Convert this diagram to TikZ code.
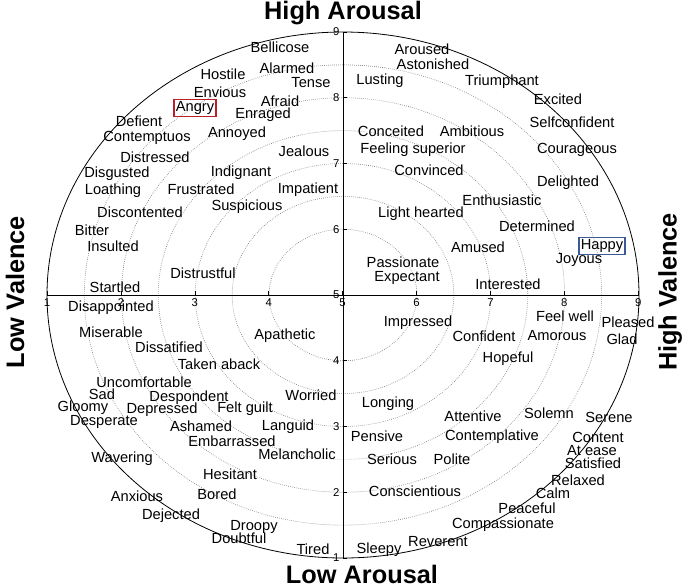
\documentclass[tikz,border=0pt]{standalone}
\usepackage{fontspec}
\setmainfont{Liberation Sans}
\usepackage{xcolor}
\usetikzlibrary{positioning}
\definecolor{boxred}{RGB}{190,30,40}
\definecolor{boxblue}{RGB}{60,90,150}

\begin{document}
\begin{tikzpicture}[
    x=0.75pt, y=-0.75pt,
    word/.style={inner sep=1pt, font=\fontsize{11}{13}\selectfont},
    ticklab/.style={inner sep=1pt, font=\fontsize{8.5}{10}\selectfont},
    axtitle/.style={font=\fontsize{19}{23}\selectfont\bfseries},
    ring/.style={densely dotted, gray, line width=0.5pt},
    mark box/.style={draw=#1, line width=1.3pt, inner sep=1.5pt}
]
\useasboundingbox (0,0) rectangle (685,587);

% centre of the plane and rings
\coordinate (c) at (343,295);
\foreach \r in {1,1.5,...,3.5}
    \draw[ring] (c) ellipse[x radius=\r*73.9, y radius=\r*65.75];
\draw[line width=0.6pt] (c) ellipse[x radius=296, y radius=263];

% axes
\coordinate (xl) at (47,295);
\coordinate (xr) at (639,295);
\coordinate (yb) at (343,558);
\coordinate (yt) at (343,32);
\draw[line width=0.6pt] (xl) -- (xr);
\draw[line width=0.6pt] (yb) -- (yt);
\foreach \k in {1,...,9} {
    \draw (47+73.9*\k-73.9,295) -- ++(0,-4);
    \node[ticklab, below] (tx\k) at (47+73.9*\k-73.9,297) {\k};
    \draw (343,558-65.75*\k+65.75) -- ++(4,0);
    \node[ticklab, left] (ty\k) at (341,558-65.75*\k+65.75) {\k};
}

% axis titles
\node[axtitle] (hiar) at (343,13) {High Arousal};
\node[axtitle] (loar) at (362,574) {Low Arousal};
\node[axtitle, rotate=90] (loval) at (15,292) {Low Valence};
\node[axtitle, rotate=90] (hival) at (670,292) {High Valence};

% upper left
\foreach \t/\x/\y [count=\i] in {Bellicose/280/47, Alarmed/287/68, Hostile/223/74,
    Tense/311/83, Envious/220/92, Afraid/280/101, Enraged/263/115, Defient/139/121,
    Contemptuos/147/138, Annoyed/237/134, Jealous/304/151, Distressed/155/157,
    Indignant/241/173, Disgusted/117/174, Loathing/113/191, Frustrated/201/189,
    Impatient/308/190, Suspicious/247/207, Discontented/140/212, Bitter/92/230,
    Insulted/113/246, Distrustful/203/273, Startled/115/287}
    \node[word] (ul\i) at (\x,\y) {\t};
\node[word, mark box=boxred] (angry) at (195,108) {Angry};

% upper right
\foreach \t/\x/\y [count=\i] in {Aroused/422/49, Astonished/433/64, Lusting/380/81,
    Triumphant/502/82, Excited/558/99, Selfconfident/572/122, Conceited/391/131,
    Ambitious/472/131, Feeling superior/413/150, Courageous/577/150, Convinced/429/170,
    Delighted/568/183, Enthusiastic/502/200, Light hearted/421/214, Determined/537/226,
    Amused/478/247, Joyous/579/260, Passionate/403/262, Expectant/407/278,
    Interested/508/284}
    \node[word] (ur\i) at (\x,\y) {\t};
\node[word, mark box=boxblue] (happy) at (602,246) {Happy};

% lower left
\foreach \t/\x/\y [count=\i] in {Disappointed/111/308, Miserable/111/332,
    Apathetic/285/336, Dissatified/169/347, Taken aback/219/364, Uncomfortable/144/382,
    Sad/102/394, Worried/311/395, Despondent/189/398, Gloomy/83/408, Depressed/162/410,
    Felt guilt/245/409, Desperate/104/422, Ashamed/201/426, Languid/288/427,
    Embarrassed/232/441, Melancholic/297/454, Wavering/122/459, Hesitant/230/474,
    Anxious/137/496, Bored/217/494, Dejected/171/516, Droopy/254/527,
    Doubtful/239/538, Tired/313/549}
    \node[word] (ll\i) at (\x,\y) {\t};

% lower right
\foreach \t/\x/\y [count=\i] in {Feel well/565/316, Pleased/628/322, Impressed/418/323,
    Confident/484/336, Amorous/557/336, Glad/622/339, Hopeful/508/359, Longing/388/404,
    Attentive/473/416, Solemn/549/413, Serene/609/417, Pensive/377/436,
    Contemplative/492/437, Content/598/437, At ease/592/451, Serious/392/459,
    Polite/452/459, Satisfied/593/463, Relaxed/578/480, Conscientious/415/491,
    Calm/553/493, Peaceful/527/508, Compassionate/503/525, Reverent/438/542,
    Sleepy/379/550}
    \node[word] (lr\i) at (\x,\y) {\t};

\end{tikzpicture}
\end{document}
